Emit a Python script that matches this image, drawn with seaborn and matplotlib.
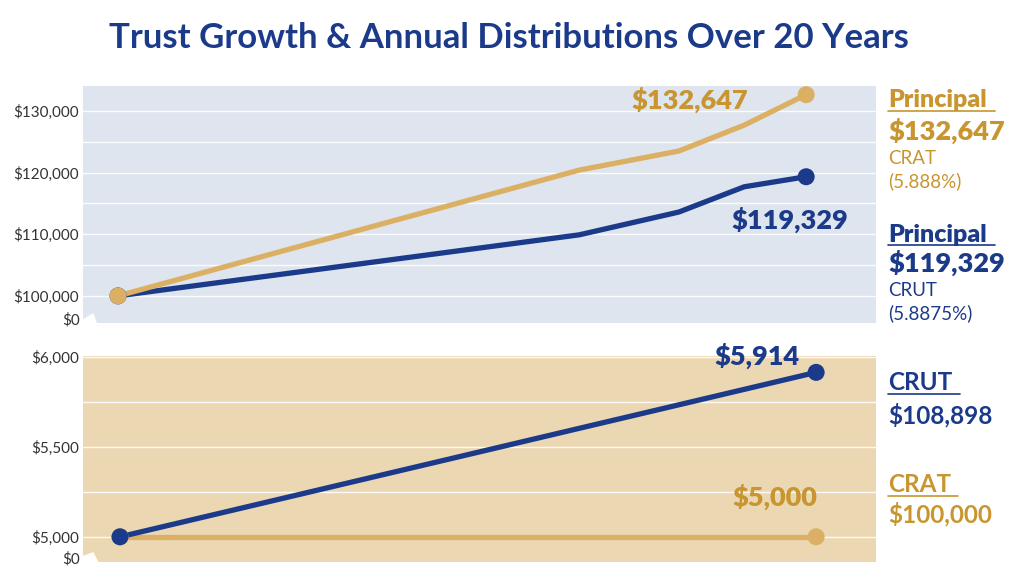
import numpy as np
import pandas as pd
import matplotlib
matplotlib.use("Agg")
import matplotlib.pyplot as plt
from matplotlib.lines import Line2D
import seaborn as sns

# ---------------- data ----------------
years_principal = [0, 13.4, 16.3, 18.2, 20]
crat_principal = [100000, 120400, 123500, 127700, 132647]
crut_principal = [100000, 109900, 113600, 117700, 119329]

years_dist = [0, 20]
crut_dist = [5000, 5914]
crat_dist = [5000, 5000]

top_ticks = [100000, 110000, 120000, 130000]
top_tick_labels = ["$100,000", "$110,000", "$120,000", "$130,000"]
top_minor = [105000, 115000, 125000]
bottom_ticks = [5000, 5500, 6000]
bottom_tick_labels = ["$5,000", "$5,500", "$6,000"]
bottom_minor = [5250, 5750]

title = "Trust Growth & Annual Distributions Over 20 Years"

# ---------------- style ----------------
NAVY = "#1B3A8A"
GOLD_LINE = "#DCB064"
GOLD_TEXT = "#C8952F"
TOP_BG = "#DFE5EE"
BOT_BG = "#EBD7B2"
TICK_C = "#333333"

sns.set_theme(style="white")
plt.rcParams["font.family"] = ["Lato", "DejaVu Sans"]

W, H = 1024, 576
fig = plt.figure(figsize=(W / 100, H / 100), dpi=100)


def fx(px):
    return px / W


def fy(py):
    return 1 - py / H


ax1 = fig.add_axes([fx(83), fy(323), fx(793), 237 / H])
ax2 = fig.add_axes([fx(83), fy(562), fx(793), 206 / H])

# ---------------- top panel ----------------
top_df = pd.DataFrame({
    "year": years_principal * 2,
    "value": crut_principal + crat_principal,
    "trust": ["CRUT"] * len(years_principal) + ["CRAT"] * len(years_principal),
})
sns.lineplot(data=top_df, x="year", y="value", hue="trust",
             palette={"CRUT": NAVY, "CRAT": GOLD_LINE}, linewidth=3.8,
             legend=False, ax=ax1, zorder=3)
sns.scatterplot(x=[years_principal[0], years_principal[-1]],
                y=[crut_principal[0], crut_principal[-1]],
                color=NAVY, s=150, edgecolor="none", ax=ax1, zorder=4)
sns.scatterplot(x=[years_principal[0], years_principal[-1]],
                y=[crat_principal[0], crat_principal[-1]],
                color=GOLD_LINE, s=150, edgecolor="none", ax=ax1, zorder=5)

ax1.set_xlim(-1.017, 22.03)
ax1.set_ylim(95600, 134050)
ax1.set_facecolor(TOP_BG)
ax1.set_yticks(top_ticks)
ax1.set_yticklabels(top_tick_labels)
ax1.set_yticks(top_minor, minor=True)
ax1.set_xticks([])

VAL_W = "heavy"
VAL_S = 19.5

ax1.annotate(f"${crat_principal[-1]:,}", xy=(years_principal[-1], crat_principal[-1]),
             xytext=(-83.5, -3.6), textcoords="offset points", ha="center", va="center",
             fontsize=VAL_S, fontweight=VAL_W, color=GOLD_TEXT, zorder=6)
ax1.annotate(f"${crut_principal[-1]:,}", xy=(years_principal[-1], crut_principal[-1]),
             xytext=(-11.5, -31), textcoords="offset points", ha="center", va="center",
             fontsize=VAL_S, fontweight=VAL_W, color=NAVY, zorder=6)

# ---------------- bottom panel ----------------
bot_df = pd.DataFrame({
    "year": years_dist * 2,
    "value": crat_dist + crut_dist,
    "trust": ["CRAT"] * len(years_dist) + ["CRUT"] * len(years_dist),
})
sns.lineplot(data=bot_df, x="year", y="value", hue="trust",
             palette={"CRUT": NAVY, "CRAT": GOLD_LINE}, linewidth=3.8,
             legend=False, ax=ax2, zorder=3)
sns.scatterplot(x=[years_dist[0], years_dist[-1]], y=[crat_dist[0], crat_dist[-1]],
                color=GOLD_LINE, s=150, edgecolor="none", ax=ax2, zorder=4)
sns.scatterplot(x=[years_dist[0], years_dist[-1]], y=[crut_dist[0], crut_dist[-1]],
                color=NAVY, s=150, edgecolor="none", ax=ax2, zorder=5)

ax2.set_xlim(-1.063, 21.72)
ax2.set_ylim(4860, 6005)
ax2.set_facecolor(BOT_BG)
ax2.set_yticks(bottom_ticks)
ax2.set_yticklabels(bottom_tick_labels)
ax2.set_yticks(bottom_minor, minor=True)
ax2.set_xticks([])

ax2.annotate(f"${crut_dist[-1]:,}", xy=(years_dist[-1], crut_dist[-1]),
             xytext=(-42.5, 12.2), textcoords="offset points", ha="center", va="center",
             fontsize=VAL_S, fontweight=VAL_W, color=NAVY, zorder=6, annotation_clip=False)
ax2.annotate(f"${crat_dist[-1]:,}", xy=(years_dist[-1], crat_dist[-1]),
             xytext=(-29.5, 28.8), textcoords="offset points", ha="center", va="center",
             fontsize=VAL_S, fontweight=VAL_W, color=GOLD_TEXT, zorder=6)

# ---------------- common axis styling ----------------
for ax, brk in ((ax1, [(-0.002, -0.01), (-0.002, 0.0084), (0.0126, 0.038), (0.0177, -0.01)]),
                (ax2, [(-0.002, -0.01), (-0.002, 0.024), (0.0126, 0.044), (0.02, -0.01)])):
    for s in ax.spines.values():
        s.set_visible(False)
    ax.grid(True, which="both", axis="y", color="white", linewidth=1.0, alpha=0.9)
    ax.grid(False, axis="x")
    ax.set_axisbelow(True)
    ax.tick_params(axis="y", which="both", length=0, pad=3, labelsize=11, labelcolor=TICK_C)
    ax.set_xlabel("")
    ax.set_ylabel("")
    ax.fill([p[0] for p in brk], [p[1] for p in brk], color="white",
            transform=ax.transAxes, clip_on=False, zorder=2)
    ax.text(-0.004, 0.012, "$0", transform=ax.transAxes, ha="right", va="center",
            fontsize=11, color=TICK_C)

# ---------------- title ----------------
fig.text(0.497, fy(38), title, ha="center", va="center", fontsize=25,
         fontweight="bold", color=NAVY)

# ---------------- right-hand notes ----------------
def note(px, py, s, color, size, weight):
    fig.text(fx(px), fy(py), s, ha="left", va="center", fontsize=size,
             fontweight=weight, color=color)


def underline(x0, x1, py, color):
    fig.add_artist(Line2D([fx(x0), fx(x1)], [fy(py), fy(py)], color=color,
                          linewidth=1.2, transform=fig.transFigure))


note(888, 100, "Principal", GOLD_TEXT, 18, VAL_W)
underline(888, 995, 111, GOLD_TEXT)
note(888, 131, "$132,647", GOLD_TEXT, VAL_S, VAL_W)
note(888, 158, "CRAT", GOLD_TEXT, 13.5, "normal")
note(888, 181, "(5.888%)", GOLD_TEXT, 13.5, "normal")

note(888, 235, "Principal", NAVY, 18, VAL_W)
underline(888, 995, 245, NAVY)
note(888, 263, "$119,329", NAVY, VAL_S, VAL_W)
note(888, 290, "CRUT", NAVY, 13.5, "normal")
note(888, 313, "(5.8875%)", NAVY, 13.5, "normal")

note(888, 383, "CRUT", NAVY, 17.5, "bold")
underline(888, 960, 394, NAVY)
note(888, 415, "$108,898", NAVY, 17.5, "bold")

note(888, 485, "CRAT", GOLD_TEXT, 17.5, "bold")
underline(888, 958, 496, GOLD_TEXT)
note(888, 514, "$100,000", GOLD_TEXT, 17.5, "bold")

fig.savefig("out.png", dpi=100, facecolor="white")
